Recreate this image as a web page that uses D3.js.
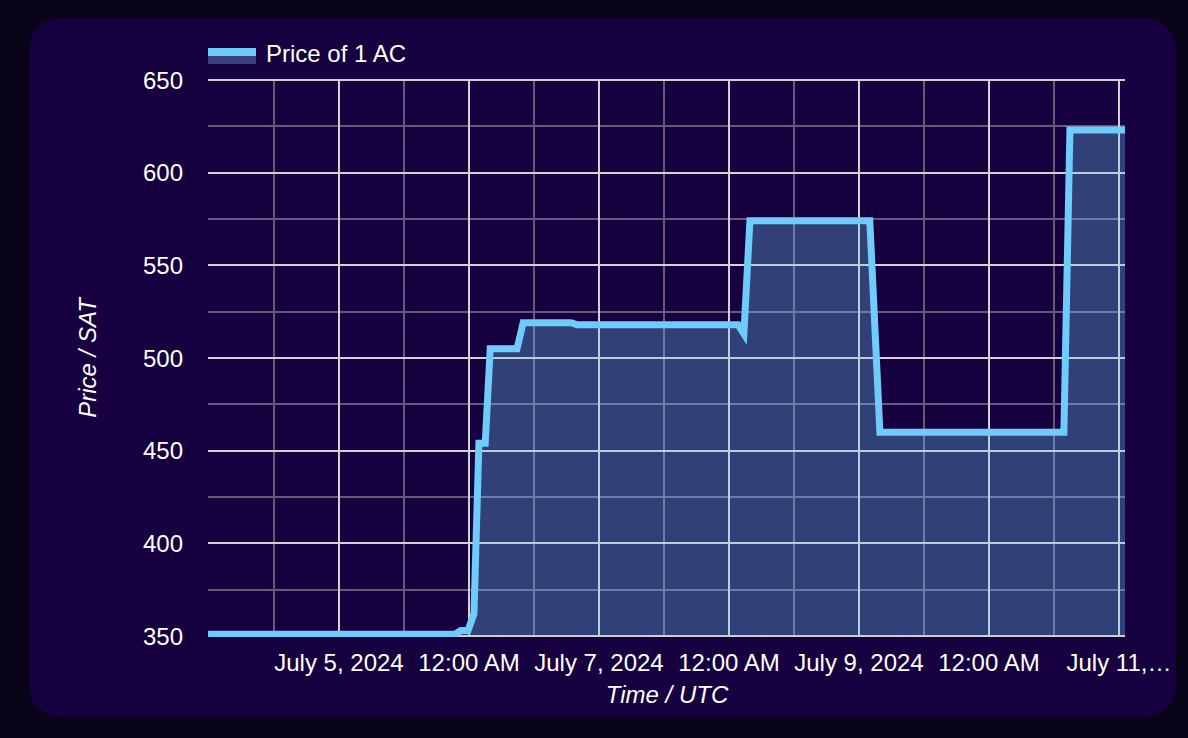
<!DOCTYPE html>
<html><head><meta charset="utf-8">
<script src="https://cdn.jsdelivr.net/npm/d3@7/dist/d3.min.js"></script>
<style>
html,body{margin:0;padding:0;background:#0a0419;}
svg{display:block;font-family:"Liberation Sans",Arial,Helvetica,sans-serif;}
</style></head>
<body>
<svg id="chart" width="1188" height="738"></svg>
<script>
// ---- data ----
const seriesName = "Price of 1 AC";
const times = [
  "2024-07-03T23:49:00Z","2024-07-05T21:25:00Z","2024-07-05T22:30:00Z","2024-07-05T23:50:00Z",
  "2024-07-06T00:55:00Z","2024-07-06T01:50:00Z","2024-07-06T03:00:00Z","2024-07-06T03:55:00Z",
  "2024-07-06T08:52:00Z","2024-07-06T10:00:00Z","2024-07-06T18:50:00Z","2024-07-06T19:55:00Z",
  "2024-07-08T01:40:00Z","2024-07-08T02:45:00Z","2024-07-08T03:52:00Z","2024-07-09T02:00:00Z",
  "2024-07-09T03:52:00Z","2024-07-10T13:50:00Z","2024-07-10T14:57:00Z","2024-07-11T01:07:00Z"
];
const prices = [351,351,353,353,362,454,454,505,505,519,519,518,518,513,574,574,460,460,623,623];
const xTickTimes = ["2024-07-05T00:00:00Z","2024-07-06T00:00:00Z","2024-07-07T00:00:00Z","2024-07-08T00:00:00Z","2024-07-09T00:00:00Z","2024-07-10T00:00:00Z","2024-07-11T00:00:00Z"];
const xTickLabels = ["July 5, 2024","12:00 AM","July 7, 2024","12:00 AM","July 9, 2024","12:00 AM","July 11,…"];
const xMinorTimes = ["2024-07-04T12:00:00Z","2024-07-05T12:00:00Z","2024-07-06T12:00:00Z","2024-07-07T12:00:00Z","2024-07-08T12:00:00Z","2024-07-09T12:00:00Z","2024-07-10T12:00:00Z"];
const yTicks = [350,400,450,500,550,600,650];
const yMinorTicks = [375,425,475,525,575,625];
const xDomain = ["2024-07-03T23:49:00Z","2024-07-11T01:07:00Z"];
const yDomain = [350,650];

// ---- layout ----
const L=208, R=1125, T=80, B=636;
const svg = d3.select("#chart");
const lineColor = "#6ecbfa";
const fillColor = "rgba(112,205,250,0.31)";
const majorGrid = "#d2d2d2";
const minorGrid = "#655a7c";

svg.append("rect").attr("x",29).attr("y",18).attr("width",1147).attr("height",699)
  .attr("rx",31).attr("fill","#16003f");

const x = d3.scaleUtc().domain(xDomain.map(d=>new Date(d))).range([L,R]);
const y = d3.scaleLinear().domain(yDomain).range([B,T]);
const xr = d => Math.round(x(new Date(d)));
const yr = d => Math.round(y(d));

const data = times.map((t,i)=>({t:new Date(t), v:prices[i]}));

// grid
const g = svg.append("g");
g.selectAll(".hmin").data(yMinorTicks).join("line")
  .attr("x1",L).attr("x2",R).attr("y1",yr).attr("y2",yr)
  .attr("stroke",minorGrid).attr("stroke-width",2);
g.selectAll(".vmin").data(xMinorTimes).join("line")
  .attr("x1",xr).attr("x2",xr).attr("y1",T).attr("y2",B)
  .attr("stroke",minorGrid).attr("stroke-width",2);
g.selectAll(".hmaj").data(yTicks).join("line")
  .attr("x1",L).attr("x2",R).attr("y1",yr).attr("y2",yr)
  .attr("stroke",majorGrid).attr("stroke-width",2);
g.selectAll(".vmaj").data(xTickTimes).join("line")
  .attr("x1",xr).attr("x2",xr).attr("y1",T).attr("y2",B)
  .attr("stroke",majorGrid).attr("stroke-width",2);

// clip
svg.append("clipPath").attr("id","clip").append("rect")
  .attr("x",L).attr("y",T-5).attr("width",R-L).attr("height",B-T+6);

const area = d3.area().x(d=>x(d.t)).y0(y(yDomain[0])).y1(d=>y(d.v));
const line = d3.line().x(d=>x(d.t)).y(d=>y(d.v));
svg.append("path").datum(data).attr("d",area).attr("fill",fillColor).attr("clip-path","url(#clip)");
svg.append("path").datum(data).attr("d",line).attr("fill","none")
  .attr("stroke",lineColor).attr("stroke-width",7).attr("stroke-linejoin","miter")
  .attr("clip-path","url(#clip)");

// y axis labels
svg.selectAll(".ylab").data(yTicks).join("text")
  .attr("x",183).attr("y",d=>y(d)).attr("dy","0.36em").attr("text-anchor","end")
  .attr("fill","#ffffff").attr("font-size",24).text(d=>d);

// x axis labels
svg.selectAll(".xlab").data(xTickTimes).join("text")
  .attr("x",(d,i)=>x(new Date(d))).attr("y",671).attr("text-anchor","middle")
  .attr("fill","#ffffff").attr("font-size",24).text((d,i)=>xTickLabels[i]);

// axis titles
svg.append("text").attr("transform","translate(96,358) rotate(-90)")
  .attr("text-anchor","middle").attr("fill","#ffffff").attr("font-size",24)
  .attr("font-style","italic").text("Price / SAT");
svg.append("text").attr("x",667).attr("y",703).attr("text-anchor","middle")
  .attr("fill","#ffffff").attr("font-size",24).attr("font-style","italic").text("Time / UTC");

// legend
svg.append("rect").attr("x",208).attr("y",48).attr("width",48).attr("height",8).attr("fill",lineColor);
svg.append("rect").attr("x",208).attr("y",56).attr("width",48).attr("height",8).attr("fill","#38417a");
svg.append("text").attr("x",266).attr("y",62).attr("fill","#ffffff").attr("font-size",24).text(seriesName);
</script>
</body></html>
